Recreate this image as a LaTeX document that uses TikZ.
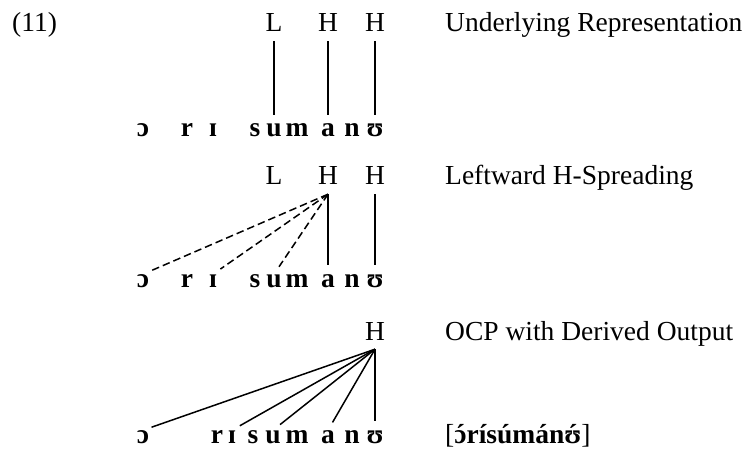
\documentclass[tikz,border=0pt]{standalone}
\usepackage{fontspec}
\setmainfont{Liberation Serif}
\newcommand\acuteon[1]{{\ooalign{#1\cr\hidewidth ´\hidewidth\cr}}}
\begin{document}
\begin{tikzpicture}[x=1pt,y=-1pt,
  every node/.style={font=\fontsize{27.5}{33}\selectfont},
  tone/.style={anchor=base,inner sep=0pt,text depth=9pt},
  seg/.style={anchor=base,inner sep=0pt,text height=12.6pt,text depth=0pt,font=\fontsize{27.5}{33}\selectfont\bfseries},
  lbl/.style={anchor=base west,inner sep=0pt},
  assoc/.style={line width=1.5pt,shorten >=9pt},
  spread/.style={assoc,dash pattern=on 7.5pt off 4pt}]
\useasboundingbox (0,0) rectangle (746,449);
\node[lbl] (num) at (12,32) {(11)};
% Row 1
\node[tone] (t1L) at (274,32) {L};
\node[tone] (t1H) at (328,32) {H};
\node[tone] (t1H2) at (375,32) {H};
\node[lbl] (lab1) at (445,32) {Underlying Representation};
\node[seg] (a1) at (143,137) {ɔ};
\node[seg] (a2) at (187,137) {r};
\node[seg] (a3) at (213,137) {ɪ};
\node[seg] (a4) at (255,137) {s};
\node[seg] (a5) at (274,137) {u};
\node[seg] (a6) at (297,137) {m};
\node[seg] (a7) at (328,137) {a};
\node[seg] (a8) at (352,137) {n};
\node[seg] (a9) at (375,137) {ʊ};
\draw[assoc] (t1L.south) -- (a5.north);
\draw[assoc] (t1H.south) -- (a7.north);
\draw[assoc] (t1H2.south) -- (a9.north);
% Row 2
\node[tone] (t2L) at (274,185) {L};
\node[tone] (t2H) at (328,185) {H};
\node[tone] (t2H2) at (375,185) {H};
\node[lbl] (lab2) at (445,185) {Leftward H-Spreading};
\node[seg] (b1) at (143,287) {ɔ};
\node[seg] (b2) at (187,287) {r};
\node[seg] (b3) at (213,287) {ɪ};
\node[seg] (b4) at (255,287) {s};
\node[seg] (b5) at (274,287) {u};
\node[seg] (b6) at (297,287) {m};
\node[seg] (b7) at (328,287) {a};
\node[seg] (b8) at (352,287) {n};
\node[seg] (b9) at (375,287) {ʊ};
\draw[spread] (t2H.south) -- (b1.north);
\draw[spread] (t2H.south) -- (b3.north);
\draw[spread] (t2H.south) -- (b5.north);
\draw[assoc] (t2H.south) -- (b7.north);
\draw[assoc] (t2H2.south) -- (b9.north);
% Row 3
\node[tone] (t3H) at (375,340) {H};
\node[lbl] (lab3) at (445,340) {OCP with Derived Output};
\node[seg] (c1) at (143,443) {ɔ};
\node[seg] (c2) at (217,443) {r};
\node[seg] (c3) at (232,443) {ɪ};
\node[seg] (c4) at (253,443) {s};
\node[seg] (c5) at (273,443) {u};
\node[seg] (c6) at (297,443) {m};
\node[seg] (c7) at (328,443) {a};
\node[seg] (c8) at (352,443) {n};
\node[seg] (c9) at (375,443) {ʊ};
\draw[assoc] (t3H.south) -- (c1.north);
\draw[assoc] (t3H.south) -- (c3.north);
\draw[assoc] (t3H.south) -- (c5.north);
\draw[assoc] (t3H.south) -- (c7.north);
\draw[assoc] (t3H.south) -- (c9.north);
\node[lbl] (out) at (445,443) {[\textbf{\acuteon{ɔ}rísúmán\acuteon{ʊ}}]};
\end{tikzpicture}
\end{document}
